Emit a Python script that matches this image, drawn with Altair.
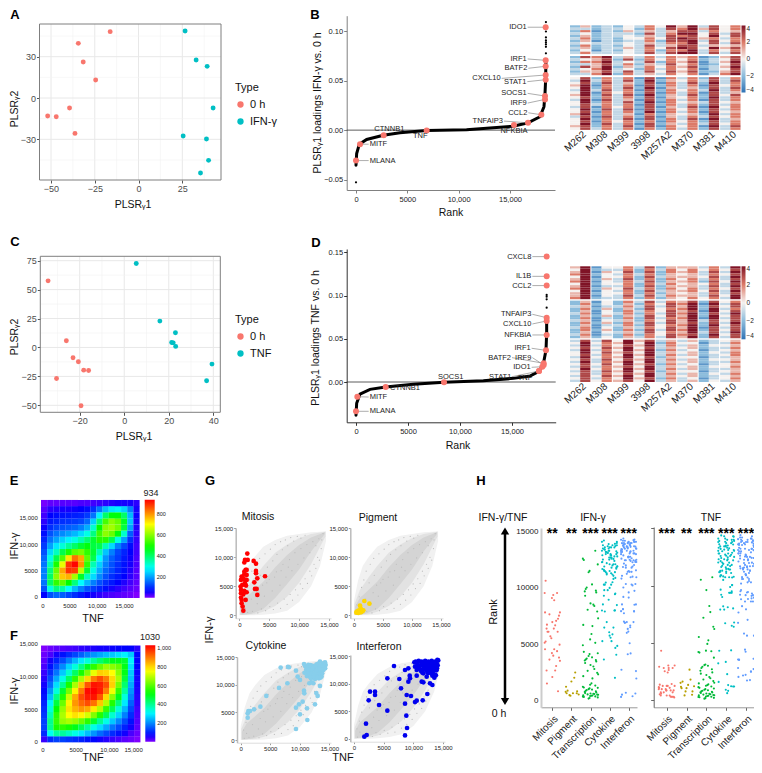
import altair as alt
import pandas as pd

W, H = 746, 757
FONT = "Liberation Sans"
PINK, TEAL = "#F8766D", "#00BFC4"

# ---------- panels A / C ----------
A_0H_X = [-16.2, -34.4, -31.6, -24.5, -39.4, -51.9, -47, -36.3]
A_0H_Y = [48.2, 39.7, 26.2, 13.1, -7.3, -13.1, -13.6, -25.7]
A_IFN_X = [26.6, 32.9, 39.2, 42.6, 25.5, 38.8, 40, 35.4]
A_IFN_Y = [48.7, 27.6, 23, -7.3, -27.6, -29.8, -45.3, -54.5]
C_0H_X = [-34.2, -26, -23, -20.6, -18.2, -16, -30.4, -19.4]
C_0H_Y = [57.6, 5.8, -8.9, -12.4, -19.6, -19.9, -26.8, -50.4]
C_TNF_X = [5.4, 16, 23, 21.3, 22, 23.1, 39.4, 37]
C_TNF_Y = [72.6, 22.8, 12.7, 4.3, 4, 0.9, -14.4, -28.8]

# ---------- panels B / D ----------
B_CURVE_R = [0, 65, 325, 1040, 2660, 4280, 6880, 10770, 15320, 16750, 17920, 18310, 18410, 18470, 18500]
B_CURVE_V = [-.0354, -.0236, -.0142, -.0094, -.0051, -.0027, -.0003, .0003, .004, .0074, .0135, .0236, .037, .0505, .0708]
B_OUT_R = [0, 18500, 18500, 18500, 18500, 18500, 18500, 18500, 18500]
B_OUT_V = [-.0526, .109, .0995, .0935, .0905, .0885, .0865, .084, .0775]
B_GENE = ["IDO1", "IRF1", "BATF2", "CXCL10", "STAT1", "SOCS1", "IRF9", "CCL2", "TNFAIP3", "NFKBIA", "TNF", "CTNNB1", "MITF", "MLANA"]
B_R = [18474, 18474, 18474, 18474, 18474, 18409, 18409, 18052, 16753, 15390, 6883, 2695, 390, 0]
B_V = [.1038, .0704, .0644, .0556, .0509, .0344, .031, .0155, .0074, .0051, -.0003, -.0051, -.0142, -.0307]
B_LR = [16721, 16721, 16786, 14188, 16688, 16721, 16721, 16786, 14416, 15390, 6266, 3247, 1234, 1234]
B_LV = [.1038, .0718, .0624, .0522, .0489, .0371, .0273, .0175, .0091, -.0007, -.0057, .0007, -.0142, -.0307]
B_AL = ["right"] * 9 + ["center"] * 3 + ["left"] * 2

D_CURVE_R = [0, 64, 385, 1346, 2853, 5513, 8462, 12244, 15128, 16731, 17628, 18013, 18269, 18333, 18333]
D_CURVE_V = [-.0385, -.0247, -.0139, -.0085, -.0058, -.0027, -.0004, .0015, .0042, .0069, .0127, .0208, .037, .0563, .0756]
D_OUT_R = [18333, 18333, 18333, 18333]
D_OUT_V = [.1007, .0987, .0956, .086]
D_GENE = ["CXCL8", "IL1B", "CCL2", "TNFAIP3", "CXCL10", "NFKBIA", "IRF1", "BATF2", "IRF9", "IDO1", "STAT1", "TNF", "SOCS1", "CTNNB1", "MITF", "MLANA"]
D_R = [18333, 18333, 18333, 18333, 18333, 18333, 18269, 18045, 18045, 17917, 17596, 17596, 8462, 2853, 128, 0]
D_V = [.145, .1222, .1115, .0744, .0706, .0544, .0366, .0216, .0197, .0177, .0127, .0127, -.0004, -.0058, -.017, -.0339]
D_LR = [16955, 16955, 16955, 16955, 16955, 16955, 16891, 15000, 16955, 16891, 15032, 16250, 9103, 3173, 1218, 1218]
D_LV = [.145, .1222, .1115, .0783, .0671, .0544, .039, .0282, .0282, .017, .0062, .005, .0054, -.0066, -.0174, -.0339]
D_AL = ["right"] * 11 + ["center"] * 2 + ["left"] * 3

# ---------- clustered heat maps (digit d means z = d - 4) ----------
SAMPLES = ["M262", "M308", "M399", "3998", "M257A2", "M370", "M381", "M410"]
HB1 = ["2523243648583746", "3323342637685746", "2613253535773645", "3423332736884737", "2523343537674847", "3623244647875636",
       "2513233627783746", "3433343536684737", "2623243735773545", "3523353647874857", "2413243626683646", "3633343737883737"]
HB2 = ["2768353636561257", "3457272646462347", "2668343726571358", "3357362537461247",
       "2758253646572358", "3468342636461347", "2557373747572257", "3368263536461368"]
HB3 = ["4726361716362736", "3836372825463737", "4727352716372836", "5816361726361746", "4826372815352737", "3837361726463836",
       "4816462716361735", "5827371825372747", "4726362715462836", "3817351726361736", "4826372816453745", "4736361726362736",
       "3716462715371846", "4827371726462736", "4716362816361745", "5826351625452836", "3717362715363746", "4826371726371835",
       "4716462616462736", "4827361725363746", "5726372716461837", "4736361626362736"]
HD1 = ["5814463725553638", "4823362636464647", "5815472726563738", "6824363625453647", "4814462735554738", "5825372626463637",
       "6814363725562748", "4824462636454637", "5813362725553738", "6825473626463647", "4814362735564738", "5824462625453637",
       "5814373736553748", "6823362625464638"]
HD2 = ["2514263736572746", "2624252647681837", "3513363737582747", "2625252746682836", "2514263647571847", "3614362637682738",
       "2525253747582847", "2613262736681837", "3514352647583747", "2625263737572738", "2513362746682847", "3614253647581737",
       "2625262737682747", "2514353746583738", "3613262647672847", "2524253637582737"]
HD3 = ["3737485735352345", "4846584826441336", "3836475836352445", "4747584735452336", "3836485826341345", "4847574835452436",
       "4736485836352346", "3846584725441335", "4737475836352445", "3836584835452336", "4747485726341345", "3736574835452446",
       "4846485836352335", "3737584725441345", "4736475836352436", "3747584835452345", "4736485726341346", "3746574835352435"]

# ---------- density maps E / F (rows from bottom to top) ----------
E_Z = [
 [60,130,150,140,120,100,80,60,50,40,30,25,20,15,10,0],
 [130,300,380,350,280,220,170,130,110,90,70,50,40,30,20,10],
 [160,400,520,560,480,380,280,220,170,130,100,80,60,45,30,15],
 [170,400,600,750,770,620,450,330,250,180,130,100,80,60,40,20],
 [170,380,570,780,890,880,640,440,300,210,150,120,90,70,45,20],
 [160,340,500,680,890,930,800,520,340,240,170,130,100,75,50,25],
 [150,300,420,550,720,830,780,560,420,280,190,140,110,80,55,25],
 [130,250,330,420,500,560,580,520,440,340,230,170,120,90,60,30],
 [110,200,260,310,360,400,440,470,430,420,340,250,170,120,70,30],
 [90,160,200,240,270,300,340,390,440,510,510,420,300,200,100,35],
 [70,130,160,180,200,220,250,300,380,530,600,570,470,320,140,40],
 [55,100,120,130,140,150,170,210,320,480,600,620,580,430,200,45],
 [40,80,90,100,105,110,120,150,240,390,540,600,570,450,230,50],
 [30,60,70,75,80,85,90,110,160,270,400,470,470,400,220,55],
 [20,40,45,50,50,55,60,70,100,160,220,260,270,240,170,50],
 [5,15,15,20,20,20,25,25,30,35,40,45,50,50,50,40]]
F_Z = [
 [40,110,130,130,120,110,100,85,75,60,50,40,30,20,12,0],
 [110,320,390,390,360,330,290,250,210,170,140,110,85,60,30,12],
 [130,400,540,560,540,500,450,390,330,280,230,180,140,100,60,20],
 [130,400,570,660,680,660,620,560,480,400,330,260,200,140,85,25],
 [120,370,560,680,760,790,770,720,640,550,450,350,270,190,110,30],
 [110,340,520,660,790,840,870,850,780,690,570,450,340,240,135,35],
 [100,300,470,620,770,870,920,950,910,820,690,550,420,290,160,45],
 [85,250,410,550,710,850,950,1000,1010,940,800,650,500,340,190,50],
 [75,210,340,480,630,770,900,1020,1030,1000,900,750,570,390,210,55],
 [60,170,280,400,540,680,820,940,1010,1000,950,810,630,430,230,60],
 [50,140,230,330,440,560,680,800,900,950,900,800,680,470,250,60],
 [40,110,180,260,350,440,540,640,740,810,800,760,650,500,260,65],
 [30,85,140,200,270,340,410,490,560,620,670,650,620,500,280,70],
 [20,60,100,140,190,240,290,340,390,430,470,500,500,480,300,70],
 [12,30,60,85,110,135,160,190,210,230,250,260,280,300,260,70],
 [0,12,20,25,30,35,45,50,55,60,60,65,70,70,70,50]]

# ---------- panel G ----------
CLOUD_X = [0, 700, 1500, 2500, 4000, 6000, 8000, 10000, 12000, 13500, 14500]
CLOUD_HI = [2500, 6000, 8500, 10000, 11800, 13000, 13700, 14000, 14300, 14400, 14500]
CLOUD_LO = [0, 0, 0, 0, 100, 300, 800, 2300, 5000, 8500, 12800]
MID_X = [100, 1000, 2500, 4000, 6000, 8000, 10000, 12000, 14400]
MID_HI = [2000, 4300, 6500, 8500, 10800, 12200, 13300, 14000, 14400]
MID_LO = [50, 100, 200, 600, 1600, 3200, 5600, 8800, 13600]
CORE_X = [200, 1000, 2000, 4000, 6000, 8000, 10000, 12000, 14300]
CORE_HI = [1500, 3000, 3900, 5800, 8300, 10400, 12100, 13400, 14300]
CORE_LO = [100, 150, 250, 1100, 3000, 5400, 7900, 11000, 14000]
STRAY_X = [500,900,1300,1700,2100,2800,3400,3900,4300,4700,5200,5600,6000,6300,6900,7200,7700,8100,8600,9100,9700,10300,11000,600,1400,2200,3100,3700,4400,5100,5700,6400,6900,7500,8000,8500,8900,9400,9800,10200,10600,11000,11400,11800,12100,12500,12800,13100,13400,13700,1000,2000,3000,3500,4200,5000,5500,6200,6800,7300,7800,8400,8800,9300,9800,10300,10800,11300,11800,12300,12800,13300,13800,14000,2600,3300,4600,5900,7000,8200]
STRAY_Y = [1800,3200,4800,6100,7600,8800,9800,5200,10600,8300,11400,9400,12200,10500,12700,11300,13000,12000,13400,12800,13600,13300,13800,300,500,700,400,1100,800,1500,1000,2100,1200,2800,1900,3600,2600,4400,3500,5400,4600,6300,5500,7600,6800,8800,8100,10000,9500,11500,1200,2800,2000,6900,3300,6200,4200,7500,5200,8800,6600,9600,7700,10800,8800,11500,9900,12200,10800,12700,12000,13200,13000,14100,5600,3900,5600,6600,7700,8300]
MIT_X = [1340,950,1400,840,2400,2790,1060,1230,840,2790,840,390,1230,4300,2790,670,280,950,1230,3010,2510,950,220,500,1120,280,840,1230,2620,2900,3010,280,670,280,1060,390,560,670,390]
MIT_Y = [10640,9550,9550,9100,9370,8900,7820,7820,7530,7650,7070,6670,6960,6730,7250,6380,6100,6100,6100,6380,5690,5520,4950,5230,5120,4370,4200,3970,4540,4540,3510,3800,3620,3050,2650,2070,1500,800,2650]
PIG_X = [1780,2650,1035,1150,750,1500,460,1035,1610,1320,400,750,1200]
PIG_Y = [2470,2010,1670,1210,800,750,630,630,860,630,460,400,520]
CYT_X = [6770,8000,8180,9360,10720,11450,12130,12860,13420,13990,14380,11730,12460,13140,13820,14270,11170,12010,12690,13420,13990,11450,12300,13030,13590,11900,12580,13250,13700,9640,10040,7900,6490,11620,12010,12300,13420,10720,10770,12800,13030,4340,3330,2260,1300,1580,1180,1180,10490,9870,9360,11220,12580,10040,11280,9360,
         10900,11300,11800,12300,12700,13100,13600,14100,11100,11600,12200,12800,13300,13900,14300,10800,11400,12000,12600,13200,13800,11200,11800,12400,13000,13500]
CYT_Y = [13130,13250,13190,12580,13790,13610,13430,13730,14220,13920,13610,13010,12890,13130,13310,14100,12520,12280,12400,12520,12700,11800,11680,11920,11800,11190,11070,11190,11500,11500,10890,10290,9440,10290,10470,10290,9800,8950,8470,8530,7990,7990,6050,5570,5260,5260,4840,4050,6960,6470,5870,5750,6470,4660,3630,2000,
         13400,13200,13600,13100,13500,13800,13500,13300,12800,12700,12900,12600,12900,12800,13000,12200,12100,12000,12100,11900,12100,11600,11400,11500,11400,11300]
INF_X = [10170,10730,11410,11970,12530,13090,13660,14050,10280,10960,11690,12250,12810,13380,13940,10570,11300,11970,12650,13210,13770,11690,12420,12980,13540,13990,12250,13210,13660,13540,6740,8600,9160,9390,9440,7640,5620,9160,11410,11690,10570,7920,12810,13210,12360,8880,9610,10570,10280,11580,8600,2700,3540,3540,2470,4220,5620,8820,2020,8940,8600,2140,1740,
         10400,10900,11500,12000,12600,13200,13800,14200,10700,11200,11800,12400,13000,13600,14100,11000,11600,12200,12800,13400,13900,11500,12500,13100,13800]
INF_Y = [13850,13490,13980,13670,13980,14100,13980,14280,13070,12770,13070,13250,13370,13490,13670,12460,12280,12640,12770,12890,13070,11860,12040,12160,12460,12770,11250,11430,11560,11070,13190,12460,12770,11430,10950,10830,10950,10350,10350,10220,11430,9140,10040,9740,8110,7930,7740,6900,6650,6960,6350,8530,8530,7930,6960,6110,5080,4170,2720,1940,600,670,360,
         14000,14100,13700,14100,13800,13700,13600,14200,13200,13300,13500,13000,13200,13000,13300,12700,12500,12400,12600,12300,12400,12000,11900,11800,11500]

# ---------- panel H ----------
CATS = ["Mitosis", "Pigment", "Transcription", "Cytokine", "Interferon"]
CAT_COL = ["#F8766D", "#B79F00", "#00BA38", "#00BFC4", "#619CFF"]
STARS_I = ["**", "**", "***", "***", "***"]
STARS_T = ["***", "**", "***", "***", "***"]
JIT = [-.35, .2, -.1, .4, -.25, .05, .3, -.4, .15, -.05, .35, -.2, .1, -.3, .25, 0, .38, -.15, .08, -.38, .28, -.02, -.28]
TR_I = [150,210,260,300,330,345,385,410,425,445,490,505,525,560,585,610,640,705,745,810,840,910,950,990,1060,1110,1140,1210,1310,1380,1510,
        1950,2150,2310,2440,2620,2790,3010,3140,3320,3460,3540,3590,3620,3710,3820,3940,4110,4190,4310,
        4900,5110,5420,5900,6600,6710,7290,7900,8060,8390,8510,8620,9300,9600,9690,9760,9900,10040,10310,11390,11510,12090,12480,12600,13300]
TR_T = [120,160,190,240,260,280,310,350,370,400,420,440,470,500,540,570,610,650,680,720,760,810,850,900,950,1010,1060,1120,1180,1240,1300,1370,1450,1510,
        1650,1790,1900,2010,2180,2300,2410,2550,2690,2800,2900,2990,3050,3100,3700,4140,4190,4260,4310,4900,5210,5500,6200,6400,7180,7680,8210,9600,10510,10720]
CYT_I_X = [13700,13900,14000,13800,14100,13600,13300,13000,12700,12300,11900,11700,11300,10800,10500,10000,9800,9500,9300,8000,7900]
INF_I_X = [14400,14300,14200,14100,14000,13900,13800,13700,13600,13500,13400,13300,14250,14050,13850,13650,13450,12500,12300,11800,11000,10300,9600,9200,8500,8100,7900,7000,6900,6500,6000,4100,2600,500,300]
CYT_T_X = [14300,14100,14000,13900,13800,13700,13500,13300,13100,12800,12500,12200,11900,11700,11400,11100,10900,10700,10800,9500,9200,9000,8100,7900,6700,6400,4300,3200,1200,900,600,800]
INF_T_X = [14400,14300,14200,14100,14000,13900,13800,13700,13600,13500,13300,13100,12900,12700,12500,12300,12100,11900,11700,11500,11300,11100,10900,9500,9300,9200,9100,8800,8200,7000,5800,4400,3600,3500,2800,2500,2200,1700]


def sc(pa, va, pb, vb, p0, p1):
    """Scale through two read tick positions (image pixels), cut at p0..p1."""
    m = (vb - va) / (pb - pa)
    return alt.Scale(domain=[va + (p0 - pa) * m, va + (p1 - pa) * m], range=[p0 - 8, p1 - 8], nice=False, zero=False)


def xax(y_px, values, **kw):
    base = dict(orient="bottom", offset=y_px - 8 - H, values=values, grid=False, title=None, tickSize=3, labelPadding=1)
    base.update(kw)
    return alt.Axis(**base)


def yax(x_px, values, **kw):
    base = dict(orient="left", offset=-(x_px - 8), values=values, grid=False, title=None, tickSize=3, labelPadding=1)
    base.update(kw)
    return alt.Axis(**base)


def txt(x, y, s, size=10.5, angle=0, align="center", weight="normal", color="#111111"):
    return alt.Chart(alt.Data(values=[{"t": s}])).mark_text(
        fontSize=size, angle=angle, align=align, baseline="middle", fontWeight=weight, color=color
    ).encode(text="t:N", x=alt.value(x - 8), y=alt.value(y - 8))


ONE = alt.Data(values=[{"a": 1}])
layers = []

COMMA = "datum.value>=10000 ? format(datum.value,',') : ''+datum.value"


def ggplot_panel(tx, ty, gx_major, gx_minor, gy_major, gy_minor, box, xv, yv, pts_a, pts_b, lab_b, leg_y):
    l, r, b, t = box
    for vals, col, wd in [(gx_minor, "#F2F2F2", .6), (gx_major, "#E8E8E8", 1)]:
        layers.append(alt.Chart(pd.DataFrame({"v": vals})).mark_rule(color=col, strokeWidth=wd).encode(
            x=alt.X("v:Q", scale=tx, axis=None), y=alt.value(t - 8), y2=alt.value(b - 8)))
    for vals, col, wd in [(gy_minor, "#F2F2F2", .6), (gy_major, "#E8E8E8", 1)]:
        layers.append(alt.Chart(pd.DataFrame({"v": vals})).mark_rule(color=col, strokeWidth=wd).encode(
            y=alt.Y("v:Q", scale=ty, axis=None), x=alt.value(l - 8), x2=alt.value(r - 8)))
    df = pd.DataFrame({"x": pts_a[0] + pts_b[0], "y": pts_a[1] + pts_b[1],
                       "Type": ["0 h"] * len(pts_a[0]) + [lab_b] * len(pts_b[0])})
    layers.append(alt.Chart(df).mark_circle(opacity=1, size=24).encode(
        x=alt.X("x:Q", scale=tx, axis=xax(b, xv, domain=False, labelFontSize=9, labelColor="#4D4D4D", tickColor="#555555")),
        y=alt.Y("y:Q", scale=ty, axis=yax(l, yv, domain=False, labelFontSize=9, labelColor="#4D4D4D", tickColor="#555555")),
        color=alt.Color("Type:N", scale=alt.Scale(domain=["0 h", lab_b], range=[PINK, TEAL]),
                        legend=alt.Legend(orient="none", legendX=227, legendY=leg_y - 8, title="Type", titleFontSize=11,
                                          titleFontWeight="normal", titleColor="#111111", labelFontSize=11, labelColor="#111111",
                                          symbolType="circle", symbolSize=40, symbolStrokeWidth=0, rowPadding=5, padding=0,
                                          titlePadding=6)),
    ))
    layers.append(alt.Chart(ONE).mark_rect(fill=None, stroke="#7F7F7F", strokeWidth=1).encode(
        x=alt.value(l - 8), x2=alt.value(r - 8), y=alt.value(t - 8), y2=alt.value(b - 8)))


# A
ggplot_panel(sc(51, -50, 182.3, 25, 39.5, 221), sc(139.3, -30, 56.7, 30, 180, 24),
             [-50, -25, 0, 25], [-37.5, -12.5, 12.5, 37.5], [-30, 0, 30], [-45, -15, 15, 45],
             (39.5, 221, 180, 24), [-50, -25, 0, 25], [-30, 0, 30], (A_0H_X, A_0H_Y), (A_IFN_X, A_IFN_Y), "IFN-γ", 82)
layers += [txt(133, 205, "PLSRᵧ1"), txt(14.5, 109, "PLSRᵧ2", angle=270)]
# C
ggplot_panel(sc(79.7, -20, 213.3, 40, 40.3, 220.3), sc(405.3, -50, 260.7, 75, 412.3, 256.3),
             [-20, 0, 20, 40], [-30, -10, 10, 30], [-50, -25, 0, 25, 50, 75], [-37.5, -12.5, 12.5, 37.5, 62.5],
             (40.3, 220.3, 412.3, 256.3), [-20, 0, 20, 40], [-50, -25, 0, 25, 50, 75], (C_0H_X, C_0H_Y), (C_TNF_X, C_TNF_Y), "TNF", 314)
layers += [txt(134, 437, "PLSRᵧ1"), txt(14.5, 337, "PLSRᵧ2", angle=270)]


def loading_panel(tx, ty, box, yv, cr, cv, orx, orv, genes, gr, gv, lr, lv, al, rank_pos, ytitle, ytitle_pos, axis_col):
    l, r, b, t = box
    layers.append(alt.Chart(pd.DataFrame({"v": [0]})).mark_rule(color="#333333", strokeWidth=.8).encode(
        y=alt.Y("v:Q", scale=ty, axis=None), x=alt.value(l - 8), x2=alt.value(r - 8)))
    layers.append(alt.Chart(pd.DataFrame({"r": cr, "v": cv})).mark_line(color="black", strokeWidth=3, strokeCap="round").encode(
        x=alt.X("r:Q", scale=tx, axis=xax(b, [0, 5000, 10000, 15000], labelExpr=COMMA, labelFontSize=7.5, labelColor="#222222",
                                          domainColor=axis_col, tickColor=axis_col, labelPadding=2)),
        y=alt.Y("v:Q", scale=ty, axis=yax(l, yv, format=".2f", labelFontSize=7.5, labelColor="#222222",
                                          domainColor=axis_col, tickColor=axis_col))))
    layers.append(alt.Chart(pd.DataFrame({"r": orx, "v": orv})).mark_circle(color="black", size=5, opacity=1).encode(
        x=alt.X("r:Q", scale=tx, axis=None), y=alt.Y("v:Q", scale=ty, axis=None)))
    g = pd.DataFrame({"g": genes, "r": gr, "v": gv, "lr": lr, "lv": lv, "al": al})
    seg = g[g.al != "center"]
    layers.append(alt.Chart(seg).mark_rule(color="#8A8A8A", strokeWidth=.7).encode(
        x=alt.X("lr:Q", scale=tx, axis=None), x2="r:Q", y=alt.Y("lv:Q", scale=ty, axis=None), y2="v:Q"))
    layers.append(alt.Chart(g).mark_circle(color=PINK, size=36, opacity=1).encode(
        x=alt.X("r:Q", scale=tx, axis=None), y=alt.Y("v:Q", scale=ty, axis=None)))
    for a, dx in [("right", -1), ("center", 0), ("left", 1)]:
        layers.append(alt.Chart(g[g.al == a]).mark_text(fontSize=7.5, align=a, baseline="middle", dx=dx, color="#222222").encode(
            x=alt.X("lr:Q", scale=tx, axis=None), y=alt.Y("lv:Q", scale=ty, axis=None), text="g:N"))
    layers.append(txt(rank_pos[0], rank_pos[1], "Rank"))
    layers.append(txt(ytitle_pos[0], ytitle_pos[1], ytitle, angle=270))


loading_panel(sc(356, 0, 510, 15000, 346.7, 555), sc(179.7, -.05, 31, .10, 190, 15.7), (346.7, 555, 190, 15.7),
              [-.05, 0, .05, .10], B_CURVE_R, B_CURVE_V, B_OUT_R, B_OUT_V, B_GENE, B_R, B_V, B_LR, B_LV, B_AL,
              (451, 213), "PLSRᵧ1 loadings IFN-γ vs. 0 h", (318, 103), "#808080")
loading_panel(sc(356, 0, 512, 15000, 346.7, 555.7), sc(382, 0, 252.3, .15, 422.3, 249), (346.7, 555.7, 422.3, 249),
              [0, .05, .10, .15], D_CURVE_R, D_CURVE_V, D_OUT_R, D_OUT_V, D_GENE, D_R, D_V, D_LR, D_LV, D_AL,
              (458, 446), "PLSRᵧ1 loadings TNF vs. 0 h", (316, 338), "#333333")


def cluster_heat(blocks, gap, xs, ys, leg_x, leg_y, leg_len, lab_y):
    recs = []
    pos = 0.0
    for block in blocks:
        for row in block:
            for c, d in enumerate(row):
                p, s = c // 2, c % 2
                recs.append({"x0": p + s * .475, "x1": p + (s + 1) * .475, "y0": pos, "y1": pos + 1, "z": int(d) - 4})
            pos += 1
        pos += gap
    layers.append(alt.Chart(pd.DataFrame(recs)).mark_rect(stroke=None).encode(
        x=alt.X("x0:Q", scale=xs, axis=None), x2="x1:Q",
        y=alt.Y("y0:Q", scale=ys, axis=None), y2="y1:Q",
        color=alt.Color("z:Q", title=None,
                        scale=alt.Scale(domain=[-4, -2, 0, 2, 4], range=["#2e72b5", "#8cbcdc", "#f5f1ef", "#dc7a68", "#7f1326"], interpolate="rgb"),
                        legend=alt.Legend(orient="none", legendX=leg_x - 8, legendY=leg_y - 8, gradientLength=leg_len,
                                          gradientThickness=4, gradientStrokeWidth=0, values=[-4, -2, 0, 2, 4], labelFontSize=6.5,
                                          labelColor="#222222", labelOffset=1, padding=0))))
    df = pd.DataFrame({"s": SAMPLES, "x": [i + .475 for i in range(8)]})
    layers.append(alt.Chart(df).mark_text(fontSize=10, angle=318, align="right", baseline="middle", dx=6, color="#222222").encode(
        x=alt.X("x:Q", scale=xs, axis=None), y=alt.value(lab_y - 8), text="s:N"))


n = 42 + 2 * .8
cluster_heat([HB1, HB2, HB3], .8, sc(570, 0, 740.5, 7.95, 570, 740.5), sc(25.3, 0, 129.9, n, 25.3, 129.9), 741.5, 25.5, 67, 137)
n = 48 + 2 * .6
cluster_heat([HD1, HD2, HD3], .6, sc(570, 0, 740.5, 7.95, 570, 740.5), sc(266.3, 0, 382, n, 266.3, 382), 741.5, 266.3, 73, 389)


def density(Z, xs, ys, xe, ye, xt, yt, l, b, domain, rng, leg_x, leg_y, leg_len, vals, top_txt, top_pos):
    recs = []
    nz = len(Z)
    for j, row in enumerate(Z):
        for i, z in enumerate(row):
            recs.append({"x0": xe[0] + (xe[1] - xe[0]) * i / nz, "x1": xe[0] + (xe[1] - xe[0]) * (i + 1) / nz + 20,
                         "y0": ye[0] + (ye[1] - ye[0]) * j / nz, "y1": ye[0] + (ye[1] - ye[0]) * (j + 1) / nz + 20, "z": z})
    layers.append(alt.Chart(pd.DataFrame(recs)).mark_rect(stroke=None).encode(
        x=alt.X("x0:Q", scale=xs, axis=xax(b + 1, xt, domain=False, tickSize=0, labelExpr=COMMA, labelFontSize=6, labelColor="#222222", labelPadding=4)),
        x2="x1:Q",
        y=alt.Y("y0:Q", scale=ys, axis=yax(l, yt, domain=False, tickSize=0, labelExpr=COMMA, labelFontSize=6, labelColor="#222222", labelPadding=4)),
        y2="y1:Q",
        color=alt.Color("z:Q", title=None, scale=alt.Scale(domain=domain, range=rng, interpolate="rgb"),
                        legend=alt.Legend(orient="none", legendX=leg_x - 8, legendY=leg_y - 8, gradientLength=leg_len,
                                          gradientThickness=10, gradientStrokeWidth=0, values=vals, labelFontSize=5.5,
                                          labelColor="#222222", labelOffset=2, padding=0))))
    layers.append(txt(top_pos[0], top_pos[1], top_txt, size=9, color="#222222"))


RAINBOW = ["#8000ff", "#0000ff", "#00ffff", "#00ff00", "#ffff00", "#ff0000"]
density(E_Z, sc(42.3, 0, 124, 15000, 41, 139.5), sc(596.7, 0, 517.7, 15000, 598, 499.5), (-240, 17850), (-250, 18350),
        [0, 5000, 10000, 15000], [0, 5000, 10000, 15000], 41.3, 597.7, [0, 60, 280, 480, 700, 934], RAINBOW,
        144.7, 499.7, 98, [200, 400, 600, 800], "934", (151, 493))
density(F_Z, sc(42.3, 0, 142.3, 15000, 41, 143), sc(741.7, 0, 643.7, 15000, 742.5, 643.5), (-190, 14700), (-100, 14700),
        [0, 5000, 10000, 15000], [0, 5000, 10000, 15000], 41.3, 741.7, [0, 70, 310, 520, 760, 1030], RAINBOW,
        145.3, 645.3, 96.5, [200, 400, 600, 800, 1000], "1030", (150, 637))
layers += [txt(93, 619, "TNF", size=11), txt(93, 758, "TNF", size=11),
           txt(14.5, 546, "IFN-γ", size=11, angle=270), txt(14.5, 691, "IFN-γ", size=11, angle=270)]


def gpanel(px, py, box, pts, col, title, tpos, size=22):
    l, r, b, t = box
    tx = sc(px[0], 0, px[1], 15000, l, r)
    ty = sc(py[0], 0, py[1], 15000, b, t)
    layers.append(alt.Chart(pd.DataFrame({"x": CLOUD_X, "lo": CLOUD_LO, "hi": CLOUD_HI})).mark_area(color="#F1F1F1", opacity=1).encode(
        x=alt.X("x:Q", scale=tx, axis=xax(b, [0, 5000, 10000, 15000], labelExpr=COMMA, labelFontSize=6, labelColor="#222222",
                                          domainColor="#DDDDDD", tickColor="#999999", tickSize=2)),
        y=alt.Y("lo:Q", scale=ty, axis=yax(l, [0, 5000, 10000, 15000], labelExpr=COMMA, labelFontSize=6, labelColor="#222222",
                                           domainColor="#BBBBBB", domainWidth=1.5, tickColor="#999999", tickSize=2)),
        y2="hi:Q"))
    layers.append(alt.Chart(pd.DataFrame({"x": MID_X, "lo": MID_LO, "hi": MID_HI})).mark_area(color="#E2E2E2", opacity=1).encode(
        x=alt.X("x:Q", scale=tx, axis=None), y=alt.Y("lo:Q", scale=ty, axis=None), y2="hi:Q"))
    layers.append(alt.Chart(pd.DataFrame({"x": CORE_X, "lo": CORE_LO, "hi": CORE_HI})).mark_area(color="#D4D4D4", opacity=1).encode(
        x=alt.X("x:Q", scale=tx, axis=None), y=alt.Y("lo:Q", scale=ty, axis=None), y2="hi:Q"))
    layers.append(alt.Chart(pd.DataFrame({"x": STRAY_X, "y": STRAY_Y})).mark_circle(color="#BDBDBD", size=1.5, opacity=1).encode(
        x=alt.X("x:Q", scale=tx, axis=None), y=alt.Y("y:Q", scale=ty, axis=None)))
    layers.append(alt.Chart(pd.DataFrame({"x": pts[0], "y": pts[1]})).mark_circle(color=col, size=size, opacity=1).encode(
        x=alt.X("x:Q", scale=tx, axis=None), y=alt.Y("y:Q", scale=ty, axis=None)))
    layers.append(txt(tpos[0], tpos[1], title, size=10.5))


gpanel((239.3, 329), (615.3, 528.3), (235.7, 331, 618.3, 528), (MIT_X, MIT_Y), "#FF0000", "Mitosis", (258, 517))
gpanel((354, 441), (615.3, 528.3), (350.3, 443, 618.3, 528), (PIG_X, PIG_Y), "#FFD700", "Pigment", (378, 518))
gpanel((240.7, 329.3), (740, 657.3), (237, 331, 742.7, 657), (CYT_X, CYT_Y), "#87CEEB", "Cytokine", (266, 646))
gpanel((354, 443), (738.7, 656), (350.3, 445, 741.7, 655), (INF_X, INF_Y), "#0000EE", "Interferon", (379, 647))
layers += [txt(343, 758, "TNF", size=11), txt(210, 630, "IFN-γ", size=11, angle=270)]


def hpanel(tx, ty, box, groups, stars, lab_y, yt_kw, dom_col, dom_w):
    l, r, b, t = box
    recs = []
    for c, ranks in enumerate(groups):
        for i, v in enumerate(ranks):
            recs.append({"x": c + 1 + JIT[(i * 7 + c) % len(JIT)], "y": v, "cat": CATS[c]})
    layers.append(alt.Chart(pd.DataFrame(recs)).mark_circle(size=4.5, opacity=1).encode(
        x=alt.X("x:Q", scale=tx, axis=xax(b, [1, 2, 3, 4, 5], labelExpr="['','Mitosis','Pigment','Transcription','Cytokine','Interferon'][datum.value]",
                                          labelAngle=315, labelAlign="right", labelBaseline="top", labelFontSize=10, labelColor="#222222",
                                          labelOverlap=False, labelBound=False, labelFlush=False,
                                          domainColor="#999999", tickColor="#666666", labelPadding=3)),
        y=alt.Y("y:Q", scale=ty, axis=yax(l, [0, 5000, 10000, 15000], domainColor=dom_col, domainWidth=dom_w, tickColor="#666666", **yt_kw)),
        color=alt.Color("cat:N", scale=alt.Scale(domain=CATS, range=CAT_COL), legend=None)))
    layers.append(alt.Chart(pd.DataFrame({"x": [1, 2, 3, 4, 5], "s": stars})).mark_text(fontSize=14, fontWeight="bold", color="black", baseline="middle").encode(
        x=alt.X("x:Q", scale=tx, axis=None), y=alt.value(lab_y - 8), text="s:N"))


hpanel(sc(552.3, 1, 628.7, 5, 541, 637), sc(700.3, 0, 531.7, 15000, 707.3, 528), (541, 637, 707.3, 528),
       [MIT_Y, PIG_Y, TR_I, CYT_Y + CYT_I_X, INF_Y + INF_I_X], STARS_I, 534,
       dict(labelFontSize=8, labelColor="#222222", tickSize=0, labelPadding=3, format="d"), "#CCCCCC", 2)
hpanel(sc(666.7, 1, 746, 5, 653.7, 753.5), sc(700, 0, 528.3, 15000, 707.3, 527), (653.7, 753.5, 707.3, 527),
       [MIT_X, PIG_X, TR_T, CYT_X + CYT_T_X, INF_X + INF_T_X], STARS_T, 534,
       dict(labels=False), "#666666", 1)

layers += [txt(503, 518, "IFN-γ/TNF", size=10.5), txt(499, 714, "0 h", size=10.5), txt(494, 612, "Rank", size=11, angle=270),
           txt(593, 518, "IFN-γ", size=10.5), txt(711, 518, "TNF", size=10.5)]
layers.append(alt.Chart(ONE).mark_rule(color="black", strokeWidth=2.5).encode(
    x=alt.value(505 - 8), y=alt.value(531 - 8), y2=alt.value(702 - 8)))
layers.append(alt.Chart(ONE).mark_point(shape="triangle-up", filled=True, color="black", size=70, opacity=1).encode(
    x=alt.value(505 - 8), y=alt.value(531 - 8)))
layers.append(alt.Chart(ONE).mark_point(shape="triangle-down", filled=True, color="black", size=70, opacity=1).encode(
    x=alt.value(505 - 8), y=alt.value(701.5 - 8)))

for s, x, y in [("A", 15, 15), ("B", 315, 15), ("C", 15, 242), ("D", 316, 243), ("E", 14, 481), ("F", 14, 636), ("G", 210, 481), ("H", 481, 481)]:
    layers.append(txt(x, y, s, size=13, weight="bold", color="black"))

chart = alt.layer(*layers).resolve_scale(x="independent", y="independent", color="independent").properties(
    width=W, height=H, padding=0, autosize=alt.AutoSizeParams(type="none")
).configure(font=FONT).configure_view(stroke=None)

chart.save("out.html", embed_options={"renderer": "svg", "actions": False})
